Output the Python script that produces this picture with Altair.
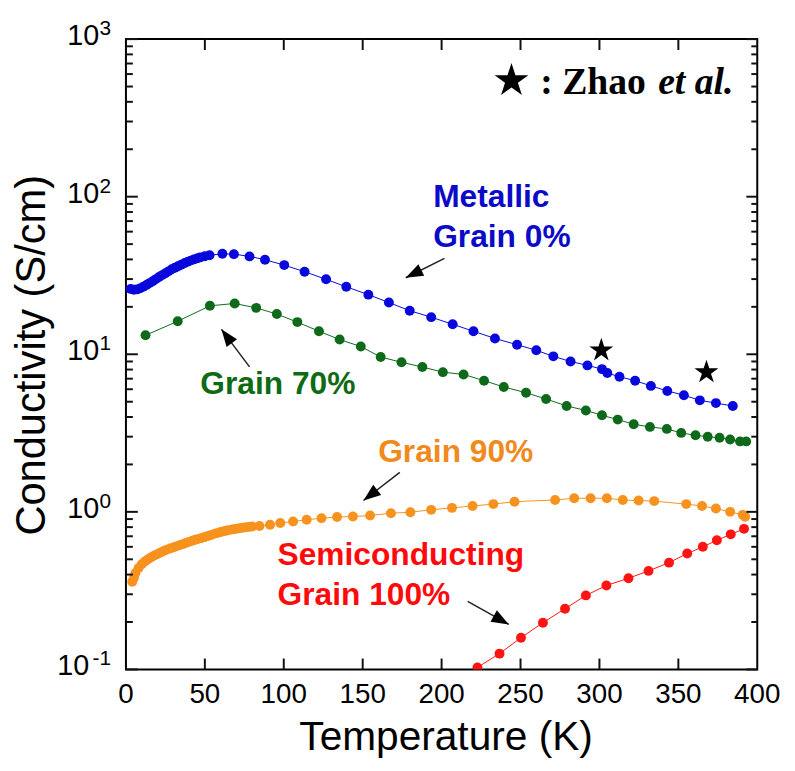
import math
import altair as alt
import pandas as pd

# ---------------- data ----------------
blue_T = [3, 5, 7, 9, 11, 13, 15, 17, 19, 21, 23, 25, 27, 29, 31, 33, 35, 37, 39, 41, 43, 45, 47, 50, 53,
          61.1, 68.4, 78.3, 88.1, 100.3, 113.2, 126.8, 139.6, 153.6, 166.6, 179.8, 193.4, 207, 220.2,
          233.8, 247.8, 260, 270.8, 281.7, 292.4, 301.6, 305, 312.7, 322.6, 332.6, 343, 353.5, 363.6,
          373.8, 384.5]
blue_S = [26.0, 25.7, 25.8, 26.2, 26.8, 27.5, 28.3, 29.1, 30.0, 30.9, 31.8, 32.7, 33.6, 34.6, 35.4, 36.2,
          37.0, 37.8, 38.6, 39.3, 40.0, 40.6, 41.2, 41.9, 42.5,
          43.4, 43.2, 41.8, 39.8, 36.8, 33.4, 29.9, 26.8, 23.9, 21.3, 18.9, 17.2, 15.5, 14.0,
          12.6, 11.5, 10.6, 9.7, 9.0, 8.5, 8.05, 7.6, 7.2, 6.8, 6.3, 5.85, 5.5, 5.1,
          4.9, 4.7]

green_T = [12.4, 32.8, 53.2, 68.9, 82.5, 95.6, 108.6, 122.3, 135.4, 148.8, 161.4, 174.6, 187.8, 200.8,
           213.9, 226.9, 239.4, 253.5, 266.2, 279.2, 291.4, 301.6, 311.6, 321.7, 332, 342.7, 351.8,
           360.9, 368.6, 376.1, 382.8, 389.1, 393]
green_S = [13.2, 16.2, 20.3, 21.0, 19.7, 18.0, 16.0, 14.0, 12.4, 11.2, 9.6, 8.9, 8.3, 7.7,
           7.45, 6.8, 6.2, 5.7, 5.2, 4.7, 4.4, 4.1, 3.85, 3.6, 3.46, 3.36, 3.17,
           3.06, 3.0, 2.95, 2.88, 2.8, 2.8]

orange_T = [4, 5, 6, 8, 10, 12, 14, 16, 18, 20, 22, 24, 26, 28, 30, 32, 34, 36, 38, 40, 42, 44, 46, 48,
            50, 52, 54, 56, 58, 60, 62, 64, 66, 68, 70, 72, 74, 76, 78, 80,
            84.6, 91.3, 97.8, 105.9, 114.5, 123.9, 133.8, 143.8, 154.7, 167.9, 180.2, 193.4, 206.6,
            219.6, 232.8, 246.2, 271.9, 284, 294.4, 304.7, 314.8, 324.8, 334.7, 355, 365, 373.8,
            382.8, 390.8, 392.3]
orange_S = [0.36, 0.38, 0.41, 0.44, 0.465, 0.485, 0.50, 0.515, 0.528, 0.54, 0.553, 0.565, 0.576, 0.586,
            0.595, 0.604, 0.614, 0.624, 0.634, 0.645, 0.655, 0.665, 0.674, 0.683, 0.693, 0.703, 0.714,
            0.725, 0.735, 0.745, 0.754, 0.762, 0.769, 0.775, 0.781, 0.787, 0.793, 0.798, 0.803, 0.807,
            0.813, 0.828, 0.849, 0.869, 0.891, 0.912, 0.927, 0.934, 0.948, 0.98, 0.995, 1.03, 1.06,
            1.09, 1.12, 1.16, 1.19, 1.22, 1.22, 1.22, 1.19, 1.18, 1.17, 1.12, 1.09, 1.05,
            1.0, 0.957, 0.93]

red_T = [222.7, 236.7, 250.3, 264.2, 278.2, 291.4, 304.4, 318.4, 331.1, 344.1, 355.6, 365.5, 374.4,
         383.2, 391.6]
red_S = [0.103, 0.126, 0.159, 0.198, 0.243, 0.295, 0.341, 0.379, 0.422, 0.476, 0.544, 0.60, 0.66,
         0.72, 0.78]

zhao_T = [301.2, 367.8]
zhao_S = [10.6, 7.7]

x_ticks = [0, 50, 100, 150, 200, 250, 300, 350, 400]
y_exps = [3, 2, 1, 0, -1]

# arrows: start (T, S) -> tip (T, S)
arrow_T1 = [201.8, 78.3, 173.5, 216.5]
arrow_S1 = [40.6, 8.32, 1.78, 0.270]
arrow_T2 = [177.3, 60.5, 150.5, 242.6]
arrow_S2 = [30.6, 14.4, 1.18, 0.193]

# ---------------- layout ----------------
W, H = 637, 636
XMIN, XMAX = 0, 400
LMIN, LMAX = -1, 3

x_scale = alt.Scale(domain=[XMIN, XMAX], nice=False, zero=False)
y_scale = alt.Scale(type="log", domain=[10 ** LMIN, 10 ** LMAX], nice=False)


def X(f="T"):
    return alt.X(f"{f}:Q", scale=x_scale, axis=None)


def Y(f="S"):
    return alt.Y(f"{f}:Q", scale=y_scale, axis=None)


def series(T, S, color, size=100):
    base = alt.Chart(pd.DataFrame({"T": T, "S": S}))
    line = base.mark_line(color=color, strokeWidth=1, clip=True).encode(x=X(), y=Y())
    pts = base.mark_point(filled=True, shape="circle", color=color, size=size,
                          opacity=1, clip=True).encode(x=X(), y=Y())
    return [line, pts]


layers = []
layers += series(orange_T, orange_S, "#F7921E")
layers += series(red_T, red_S, "#FF1414")
layers += series(green_T, green_S, "#0E6A1A")
layers += series(blue_T, blue_S, "#0808DC")

# stars
star_pts = []
for i in range(10):
    r = 1 if i % 2 == 0 else 0.382
    a = math.radians(-90 + 36 * i)
    star_pts.append(f"{r * math.cos(a):.4f},{r * math.sin(a):.4f}")
STAR = "M" + " L".join(star_pts) + " Z"

layers.append(
    alt.Chart(pd.DataFrame({"T": zhao_T, "S": zhao_S}))
    .mark_point(shape=STAR, filled=True, color="black", size=640, opacity=1)
    .encode(x=X(), y=Y())
)

# ticks (inward)
minor_y = [m * 10 ** k for k in range(LMIN, LMAX) for m in range(2, 10)]
major_y = [10 ** e for e in y_exps]
tick_col = "#111111"


def yticks(vals, x1, x2):
    return (alt.Chart(pd.DataFrame({"S": vals}))
            .mark_rule(color=tick_col, strokeWidth=2)
            .encode(y=Y(), x=alt.value(x1), x2=alt.value(x2)))


def xticks(vals, y1, y2):
    return (alt.Chart(pd.DataFrame({"T": vals}))
            .mark_rule(color=tick_col, strokeWidth=2)
            .encode(x=X(), y=alt.value(y1), y2=alt.value(y2)))


layers += [
    yticks(major_y, 0, 12), yticks(minor_y, 0, 7),
    yticks(major_y, W, W - 11), yticks(minor_y, W, W - 6),
    xticks(x_ticks[1:-1], H, H - 11), xticks(x_ticks[1:-1], 0, 11),
]

# x tick labels
layers.append(
    alt.Chart(pd.DataFrame({"T": x_ticks, "lab": [str(v) for v in x_ticks]}))
    .mark_text(font="Liberation Sans", fontSize=28, color="black", baseline="alphabetic", align="center")
    .encode(x=X(), y=alt.value(H + 34), text="lab:N")
)

# y tick labels 10^n
ydf = pd.DataFrame({
    "S": major_y,
    "base": ["10"] * len(y_exps),
    "exp": [str(e) if e >= 0 else "-" + str(-e) for e in y_exps],
    "bx": [-15 - (12 if e >= 0 else 22) for e in y_exps],
})
layers.append(
    alt.Chart(ydf).mark_text(font="Liberation Sans", fontSize=29, color="black",
                             baseline="alphabetic", align="right", dy=6)
    .encode(y=Y(), x=alt.X("bx:Q", scale=None), text="base:N")
)
layers.append(
    alt.Chart(ydf).mark_text(font="Liberation Sans", fontSize=21, color="black",
                             baseline="alphabetic", align="right", dy=-4)
    .encode(y=Y(), x=alt.value(-15), text="exp:N")
)

# axis titles
dummy = pd.DataFrame({"a": [0]})


def label(text, x, y, color="black", size=30, align="left", font="Liberation Sans",
          weight="bold", style="normal", angle=0, baseline="alphabetic"):
    return (alt.Chart(dummy)
            .mark_text(text=text, font=font, fontSize=size, fontWeight=weight, fontStyle=style,
                       color=color, align=align, baseline=baseline, angle=angle)
            .encode(x=alt.value(x), y=alt.value(y)))


layers.append(label("Temperature (K)", 323, 717, size=41, align="center", weight="normal"))
layers.append(label("Conductivity (S/cm)", -95, 319, size=42, align="center", weight="normal",
                    angle=270, baseline="middle"))

# annotations
blue_t, green_t, orange_t, red_t = "#0A0AC8", "#0E6B14", "#F08A1C", "#FF0A0A"
layers += [
    label("Metallic", 310, 169, blue_t, 32),
    label("Grain 0%", 310, 210, blue_t, 32),
    label("Grain 70%", 75, 358, green_t, 32),
    label("Grain 90%", 411, 427, orange_t, 32, align="right"),
    label("Semiconducting", 153, 531, red_t, 32),
    label("Grain 100%", 153, 571, red_t, 32),
    label(": Zhao", 418, 55, "black", 38, font="Liberation Serif"),
    label("et al.", 537, 55, "black", 38, font="Liberation Serif", style="italic"),
]
layers.append(
    alt.Chart(dummy).mark_point(shape=STAR, filled=True, color="black", size=1280, opacity=1)
    .encode(x=alt.value(389), y=alt.value(42))
)


# arrows
def px(t):
    return (t - XMIN) / (XMAX - XMIN) * W


def py(s):
    return (LMAX - math.log10(s)) / (LMAX - LMIN) * H


angles = []
for t1, s1, t2, s2 in zip(arrow_T1, arrow_S1, arrow_T2, arrow_S2):
    dx, dy = px(t2) - px(t1), py(s2) - py(s1)
    angles.append(math.degrees(math.atan2(dx, -dy)) % 360)

adf = pd.DataFrame({"T": arrow_T1, "S": arrow_S1, "T2": arrow_T2, "S2": arrow_S2, "ang": angles})
HEAD = "M0,0 L0.45,1.2 L-0.45,1.2 Z"
layers.append(
    alt.Chart(adf).mark_rule(color="#222222", strokeWidth=1.5)
    .encode(x=X("T"), y=Y("S"), x2="T2:Q", y2="S2:Q")
)
layers.append(
    alt.Chart(adf).mark_point(shape=HEAD, filled=True, color="black", size=850, opacity=1)
    .encode(x=X("T2"), y=Y("S2"), angle=alt.Angle("ang:Q", scale=None))
)

chart = (
    alt.layer(*layers)
    .properties(width=W, height=H, autosize=alt.AutoSizeParams(type="none"),
                padding={"left": 119, "top": 28, "right": 30, "bottom": 90})
    .configure_view(stroke="black", strokeWidth=2)
)

chart.save("out.html", embed_options={"renderer": "svg", "actions": False})
